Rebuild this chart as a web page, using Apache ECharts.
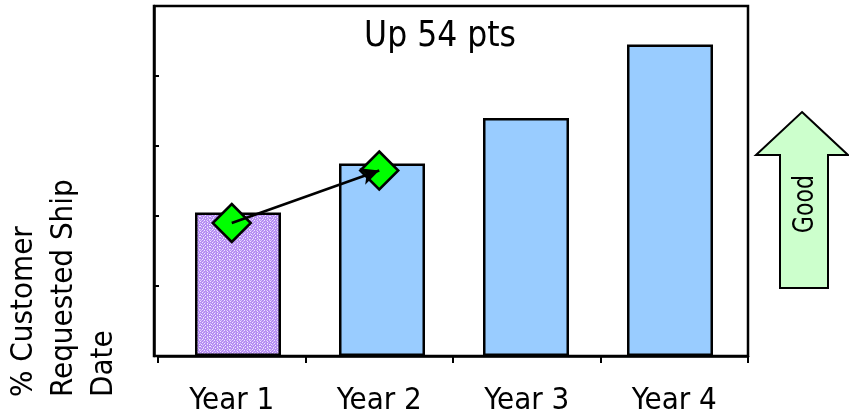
<!DOCTYPE html>
<html>
<head>
<meta charset="utf-8">
<script src="https://cdn.jsdelivr.net/npm/echarts@6/dist/echarts.min.js"></script>
<style>
  html, body { margin: 0; padding: 0; background: #fff; }
  #chart { width: 849px; height: 418px; }
</style>
</head>
<body>
<div id="chart"></div>
<script>
// Chart data
const categories = ['Year 1', 'Year 2', 'Year 3', 'Year 4'];
const barValues = [41, 55, 68, 89];        // % shipped on customer requested date
const markerValues = [38, 53, null, null];  // diamond markers joined by the arrow
const yMin = 0;
const yMax = 100;
const yInterval = 20;

const FONT = "'DejaVu Sans Condensed', 'Noto Sans', sans-serif";
const LINE = 2.5;

// Speckled lavender texture for the first bar
function makeTexture() {
  const rows = [
    '.o..x.o..o',
    'x..o...x..',
    '..x..o..o.',
    'o...x..x..',
    '.x.o...o.x',
    '..o..x....',
    'x...o..o.x',
    '.o.x...x..',
    '...o.x..o.',
    'o.x....o.x'
  ];
  const c = document.createElement('canvas');
  c.width = rows[0].length;
  c.height = rows.length;
  const ctx = c.getContext('2d');
  const shade = { '.': '#b58cf2', 'o': '#d6c0fa', 'x': '#f2ebfe' };
  rows.forEach((r, y) => {
    for (let x = 0; x < r.length; x++) {
      ctx.fillStyle = shade[r[x]];
      ctx.fillRect(x, y, 1, 1);
    }
  });
  return c;
}

const chart = echarts.init(document.getElementById('chart'), null, { renderer: 'canvas' });

const gridTop = 6, gridBottom = 62;
const hiddenY = (gi) => ({
  type: 'value', gridIndex: gi, min: yMin, max: yMax, interval: yInterval, show: false
});

const option = {
  animation: false,
  backgroundColor: '#fff',
  grid: [
    // plot frame
    { left: 154, right: 101, top: gridTop, bottom: gridBottom, show: true,
      borderColor: '#000', borderWidth: LINE, backgroundColor: 'transparent' },
    // category labels, ticks and markers
    { left: 158, right: 101, top: gridTop, bottom: gridBottom },
    // bars
    { left: 166, right: 107, top: gridTop, bottom: gridBottom }
  ],
  xAxis: [
    { type: 'category', gridIndex: 0, data: categories, show: false },
    {
      type: 'category', gridIndex: 1, data: categories,
      axisLine: { show: true, lineStyle: { color: '#000', width: LINE } },
      axisTick: { show: true, length: 7, lineStyle: { color: '#000', width: 2 } },
      axisLabel: { color: '#000', fontSize: 31, fontFamily: FONT, margin: 29 }
    },
    { type: 'category', gridIndex: 2, data: categories, show: false }
  ],
  yAxis: [
    {
      type: 'value', gridIndex: 0, min: yMin, max: yMax, interval: yInterval,
      axisLine: { show: true, lineStyle: { color: '#000', width: LINE } },
      axisTick: { show: true, inside: true, length: 5, lineStyle: { color: '#000', width: 2 } },
      axisLabel: { show: false },
      splitLine: { show: false }
    },
    hiddenY(1),
    hiddenY(2)
  ],
  series: [
    {
      type: 'bar',
      xAxisIndex: 2, yAxisIndex: 2,
      barWidth: 86,
      z: 2,
      itemStyle: { color: '#99ccff', borderColor: '#000', borderWidth: LINE },
      data: barValues.map((v, i) => i === 0
        ? { value: v, itemStyle: { color: { image: makeTexture(), repeat: 'repeat' } } }
        : v)
    },
    {
      type: 'line',
      xAxisIndex: 1, yAxisIndex: 1,
      z: 3,
      symbol: 'diamond',
      symbolSize: 38,
      showAllSymbol: true,
      connectNulls: false,
      lineStyle: { opacity: 0 },
      itemStyle: { color: '#00ff00', borderColor: '#000', borderWidth: LINE, opacity: 1 },
      data: markerValues
    },
    {
      // arrow from the first marker to the second
      type: 'line',
      xAxisIndex: 1, yAxisIndex: 1,
      z: 4,
      data: [],
      markLine: {
        silent: true,
        symbol: ['none', 'arrow'],
        symbolSize: [13, 18],
        label: { show: false },
        lineStyle: { color: '#000', width: LINE, type: 'solid' },
        data: [[
          { coord: [categories[0], markerValues[0]] },
          { coord: [categories[1], markerValues[1]] }
        ]]
      }
    }
  ],
  graphic: [
    {
      type: 'text', x: 440, y: 37,
      style: { text: 'Up 54 pts', fill: '#000', font: '35px ' + FONT,
               textAlign: 'center', textVerticalAlign: 'middle' }
    },
    {
      type: 'text', x: 4, y: 397, rotation: Math.PI / 2,
      style: { text: '% Customer\nRequested Ship\nDate', fill: '#000',
               font: '31px ' + FONT, lineHeight: 40,
               textAlign: 'left', textVerticalAlign: 'top' }
    },
    {
      type: 'polygon',
      shape: { points: [[802, 112], [848, 155], [828, 155], [828, 288], [780, 288], [780, 155], [756, 155]] },
      style: { fill: '#ccffcc', stroke: '#000', lineWidth: 2 }
    },
    {
      type: 'text', x: 805, y: 204, rotation: Math.PI / 2, scaleX: 0.85,
      style: { text: 'Good', fill: '#000', font: '29px ' + FONT,
               textAlign: 'center', textVerticalAlign: 'middle' }
    }
  ]
};

chart.setOption(option);
</script>
</body>
</html>
